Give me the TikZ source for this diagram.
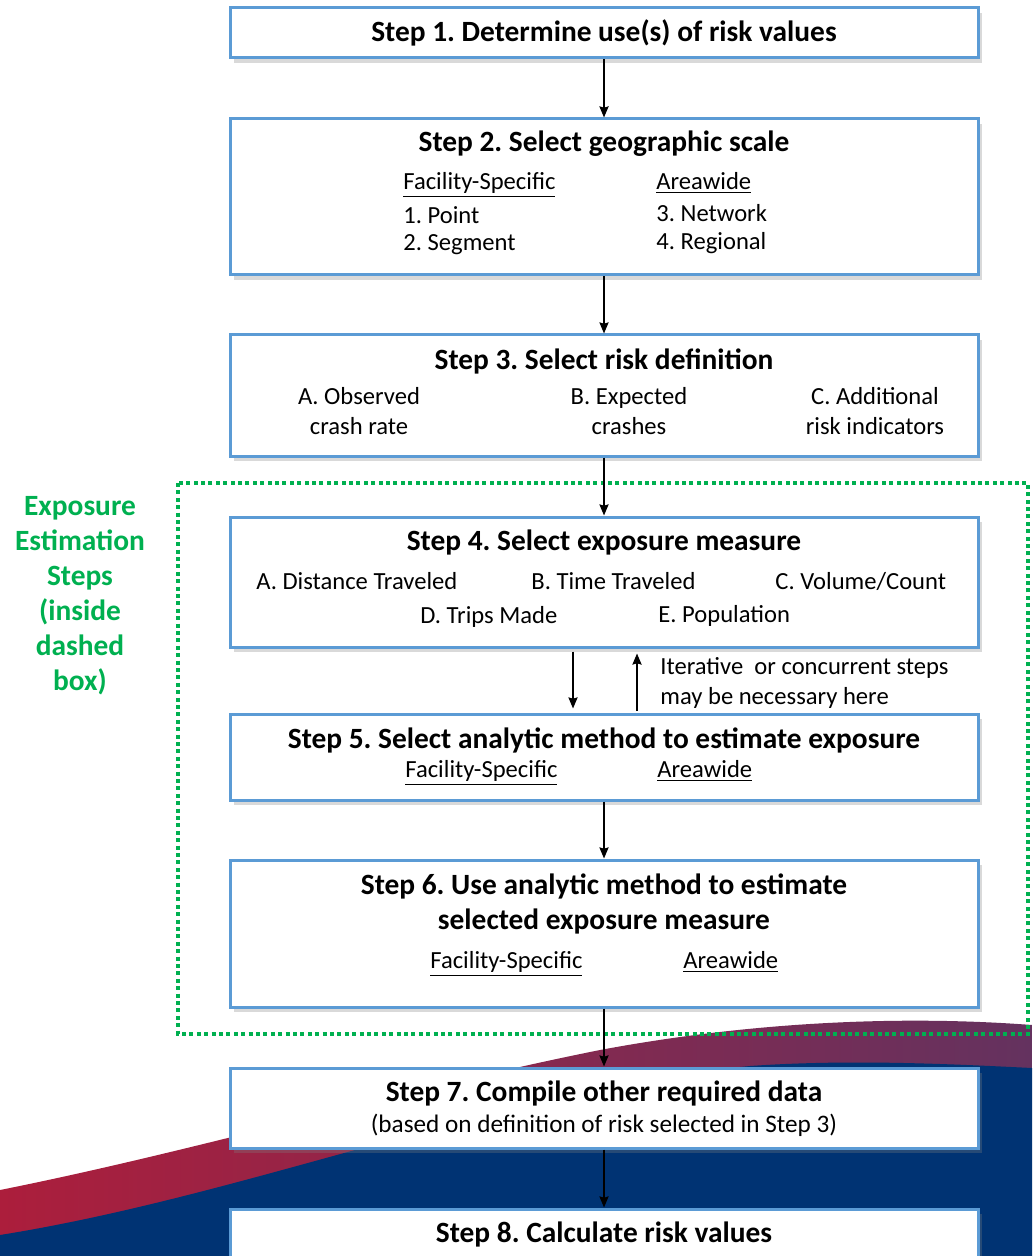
\documentclass[tikz,border=0pt]{standalone}
\usepackage{fontspec}
\setmainfont{Carlito}
\frenchspacing
\usetikzlibrary{shadows, arrows.meta}
\definecolor{boxblue}{RGB}{91,155,213}
\definecolor{stepgreen}{RGB}{0,176,80}
\definecolor{navy}{RGB}{0,51,115}
\definecolor{swooshred}{RGB}{172,30,60}
\definecolor{swooshplum}{RGB}{100,50,95}
\tikzset{
  stepbox/.style={draw=boxblue, line width=1.5pt, fill=white, minimum width=374pt, inner sep=0pt,
    drop shadow={shadow xshift=2pt, shadow yshift=-2.5pt, opacity=0.3}},
  title/.style={font=\bfseries\fontsize{14.7}{17.5}\selectfont, inner sep=0pt},
  body/.style={font=\fontsize{12.3}{15}\selectfont, inner sep=0pt},
  link/.style={->, line width=1pt},
}
\begin{document}
\begin{tikzpicture}[x=0.5pt, y=-0.5pt, >={Stealth[length=5.5pt, width=4.5pt, inset=0.6pt]}]
    \useasboundingbox (0,0) rectangle (1032,1256);
    % background swoosh
    \shade[left color=swooshred, right color=swooshplum] (0,1190) .. controls (200,1150) and (400,1090) .. (600,1050) .. controls (750,1022) and (900,1015) .. (1032,1025) -- (1032,1256) -- (0,1256) -- cycle;
    \fill[navy] (0,1235) .. controls (250,1195) and (500,1090) .. (750,1066) .. controls (850,1059) and (950,1064) .. (1032,1068) -- (1032,1256) -- (0,1256) -- cycle;
    % exposure region
    \draw[stepgreen, line width=2pt, dash pattern=on 2pt off 1.7pt] (178,483) rectangle (1028,1034);
    \node[title, text=stepgreen, align=center] (expo) at (80,596) {Exposure\\Estimation\\Steps\\(inside\\dashed\\box)};
    % step boxes
    \node[stepbox, minimum height=25pt] (s1) at (604,33) {};
    \node[stepbox, minimum height=78pt] (s2) at (604,197) {};
    \node[stepbox, minimum height=60.5pt] (s3) at (604,395.5) {};
    \node[stepbox, minimum height=65pt] (s4) at (604,582) {};
    \node[stepbox, minimum height=43pt] (s5) at (604,757) {};
    \node[stepbox, minimum height=73.5pt] (s6) at (604,933.5) {};
    \node[stepbox, minimum height=40pt] (s7) at (604,1108) {};
    \node[stepbox, minimum height=31pt] (s8) at (604,1240) {};
    % step 1
    \node[title] (t1) at (604,33) {Step 1. Determine use(s) of risk values};
    % step 2
    \node[title] (t2) at (604,144) {Step 2. Select geographic scale};
    \node[body, anchor=west] (fs2) at (403,185) {\underline{Facility-Specific}};
    \node[body, anchor=west] (pt2) at (403,215) {1. Point};
    \node[body, anchor=west] (sg2) at (403,245) {2. Segment};
    \node[body, anchor=west] (aw2) at (656,183) {\underline{Areawide}};
    \node[body, anchor=west] (nw2) at (656,213) {3. Network};
    \node[body, anchor=west] (rg2) at (656,243) {4. Regional};
    % step 3
    \node[title] (t3) at (604,361) {Step 3. Select risk definition};
    \node[body, align=center] (ra) at (359,411) {A. Observed\\crash rate};
    \node[body, align=center] (rb) at (629,411) {B. Expected\\crashes};
    \node[body, align=center] (rc) at (875,411) {C. Additional\\risk indicators};
    % step 4
    \node[title] (t4) at (604,542) {Step 4. Select exposure measure};
    \node[body, anchor=west] (ma) at (256,581) {A. Distance Traveled};
    \node[body, anchor=west] (mb) at (531,581) {B. Time Traveled};
    \node[body, anchor=west] (mc) at (775,581) {C. Volume/Count};
    \node[body, anchor=west] (md) at (420,617) {D. Trips Made};
    \node[body, anchor=west] (me) at (658,616) {E. Population};
    \node[body, anchor=west, align=left] (iter) at (660,683) {Iterative~~or concurrent steps\\may be necessary here};
    % step 5
    \node[title] (t5) at (604,740) {Step 5. Select analytic method to estimate exposure};
    \node[body, anchor=west] (fs5) at (405,773) {\underline{Facility-Specific}};
    \node[body, anchor=west] (aw5) at (657,771) {\underline{Areawide}};
    % step 6
    \node[title, align=center] (t6) at (604,904) {Step 6. Use analytic method to estimate\\selected exposure measure};
    \node[body, anchor=west] (fs6) at (430,964) {\underline{Facility-Specific}};
    \node[body, anchor=west] (aw6) at (683,962) {\underline{Areawide}};
    % step 7
    \node[title] (t7) at (604,1093) {Step 7. Compile other required data};
    \node[body, font=\fontsize{12.6}{15}\selectfont] (t7b) at (604,1125) {(based on definition of risk selected in Step 3)};
    % step 8
    \node[title] (t8) at (604,1234) {Step 8. Calculate risk values};
    % connectors
    \draw[link] (s1) -- (s2);
    \draw[link] (s2) -- (s3);
    \draw[link] (s3) -- (s4);
    \draw[link, shorten <=1.5pt, shorten >=2pt] ([xshift=-15.5pt]s4.south) -- ([xshift=-15.5pt]s5.north);
    \draw[link, shorten <=1pt, shorten >=2.5pt] ([xshift=16.5pt]s5.north) -- ([xshift=16.5pt]s4.south);
    \draw[link] (s5) -- (s6);
    \draw[link] (s6) -- (s7);
    \draw[link] (s7) -- (s8);
\end{tikzpicture}
\end{document}
